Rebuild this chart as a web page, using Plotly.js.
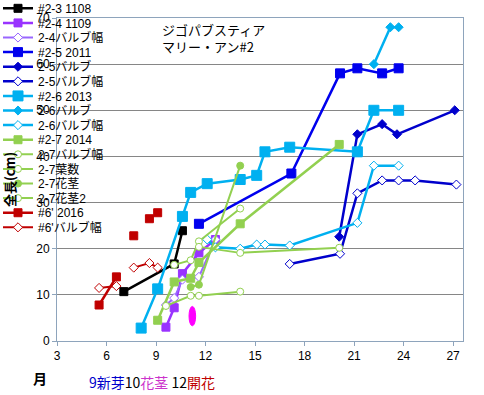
<!DOCTYPE html>
<html>
<head>
<meta charset="utf-8">
<script src="https://cdn.plot.ly/plotly-3.0.1.min.js"></script>
<style>html,body{margin:0;padding:0;background:#fff;}#chart{width:484px;height:395px;}</style>
</head>
<body>
<div id="chart"></div>
<script>
// ---- data (months on x, length in cm on y) ----
const xTicks = [3, 6, 9, 12, 15, 18, 21, 24, 27];
const yTicks = [0, 10, 20, 30, 40, 50, 60, 70];

const s23x = [7.05, 10.1, 10.6];
const s23y = [10.7, 16.7, 23.9];

const s24x = [9.6, 10.1, 10.6, 11.6, 12.6];
const s24y = [3.0, 7.2, 14.6, 19.1, 22.0];

const s24wx = [9.6, 10.1, 10.6, 11.6, 12.6];
const s24wy = [7.8, 9.3, 13.3, 13.9, 22.0];

const s25x = [11.6, 17.2, 20.15, 21.2, 22.7, 23.7];
const s25y = [25.4, 36.3, 58.0, 59.1, 58.0, 59.1];

const s25bx = [20.1, 21.2, 22.7, 23.6, 27.1];
const s25by = [22.6, 44.8, 47.0, 44.8, 50.0];

const s25wx = [17.1, 20.15, 21.2, 22.7, 23.7, 24.7, 27.2];
const s25wy = [16.7, 18.9, 32.0, 34.8, 34.8, 34.8, 33.9];

const s26x = [8.1, 9.1, 10.6, 11.1, 12.1, 14.1, 15.1, 15.6, 17.1, 21.2, 22.2, 23.7];
const s26y = [2.8, 11.3, 27.0, 32.2, 34.1, 35.0, 35.9, 41.0, 42.0, 41.0, 50.0, 50.0];

const s26bx = [22.2, 23.2, 23.7];
const s26by = [60.0, 68.0, 68.0];

const s26wx = [12.1, 12.6, 14.1, 15.1, 15.6, 17.1, 21.2, 22.2, 23.7];
const s26wy = [22.0, 20.3, 20.0, 20.9, 20.9, 20.7, 25.6, 38.0, 38.0];

const s27x = [9.1, 10.1, 11.1, 11.6, 14.1, 20.1];
const s27y = [4.5, 12.8, 13.6, 17.0, 25.4, 42.6];

const s27wx = [10.1, 11.1, 11.6, 14.1];
const s27wy = [16.5, 17.5, 21.6, 28.7];

const s27leafx = [9.6, 11.1, 11.6, 14.1];
const s27leafy = [7.6, 9.8, 9.8, 10.7];

const s27stemx = [11.1, 11.6, 14.1];
const s27stemy = [11.7, 12.2, 38.0];

const s27stem2x = [11.6, 14.1, 20.1];
const s27stem2y = [20.4, 19.1, 20.2];

const s6x = [5.55, 6.6, 7.1, 7.65, 8.1, 8.6, 8.85, 9.1];
const s6y = [7.8, 13.9, null, 22.8, null, 26.5, null, 27.8];

const s6wx = [5.55, 6.6, 7.1, 7.65, 8.6, 9.1];
const s6wy = [11.5, 11.9, null, 15.9, 16.9, 15.9];

// flower-stem marker (ellipse) centre, in data units
const stemMarkX = 11.2;
const stemMarkY = 5.4;

// ---- styling ----
const C_BLACK = '#000000', C_PURPLE = '#9933FF', C_VIOLET = '#9966FF',
      C_BLUE = '#0000EE', C_DBLUE = '#0000CC', C_CYAN = '#00B0F0',
      C_GREEN = '#92D050', C_RED = '#C00000';

function tr(name, x, y, color, symbol, size, open, lw) {
  return {
    type: 'scatter', mode: 'lines+markers', name: name, x: x, y: y,
    connectgaps: false,
    line: {color: color, width: lw || 2.5},
    marker: {symbol: symbol, size: size, color: open ? '#ffffff' : color,
             line: {color: color, width: 1}}
  };
}

const traces = [
  tr('#2-3 1108', s23x, s23y, C_BLACK, 'square', 8),
  tr('#2-4 1109', s24x, s24y, C_PURPLE, 'square', 8),
  tr('2-4バルブ幅', s24wx, s24wy, C_VIOLET, 'diamond', 7, true, 2),
  tr('#2-5 2011', s25x, s25y, C_BLUE, 'square', 9),
  tr('2-5バルブ', s25bx, s25by, C_DBLUE, 'diamond', 7),
  tr('2-5バルブ幅', s25wx, s25wy, C_DBLUE, 'diamond', 7, true),
  tr('#2-6 2013', s26x, s26y, C_CYAN, 'square', 10),
  tr('2-6バルブ', s26bx, s26by, C_CYAN, 'diamond', 7),
  tr('2-6バルブ幅', s26wx, s26wy, C_CYAN, 'diamond', 7, true),
  tr('#2-7 2014', s27x, s27y, C_GREEN, 'square', 8),
  tr('2-7バルブ幅', s27wx, s27wy, C_GREEN, 'circle', 7, true, 2),
  tr('2-7葉数', s27leafx, s27leafy, C_GREEN, 'circle', 7, true, 2),
  tr('2-7花茎', s27stemx, s27stemy, C_GREEN, 'circle', 7, false, 2),
  tr('2-7花茎2', s27stem2x, s27stem2y, C_GREEN, 'circle', 7, true, 2),
  tr("#6' 2016", s6x, s6y, C_RED, 'square', 8),
  tr("#6'バルブ幅", s6wx, s6wy, C_RED, 'diamond', 7, true, 2)
];

const FONT = 'Liberation Sans, Arial, Noto Sans CJK JP, sans-serif';
const JFONT = 'Noto Sans CJK JP, Liberation Sans, sans-serif';

const layout = {
  width: 484, height: 395,
  margin: {l: 57, r: 21, t: 18, b: 54, autoexpand: false},
  paper_bgcolor: '#ffffff', plot_bgcolor: '#ffffff',
  font: {family: FONT, size: 12, color: '#000'},
  title: {
    text: 'ジゴパブスティア<br>マリー・アン#2',
    font: {family: JFONT, size: 13, color: '#000'},
    x: 162 / 484, xanchor: 'left', xref: 'container',
    y: 1 - 35 / 395, yanchor: 'middle', yref: 'container'
  },
  xaxis: {
    range: [3, 27.6], tickvals: xTicks, ticktext: xTicks.map(String),
    showgrid: false, zeroline: false,
    showline: true, linecolor: '#8EA4BC', linewidth: 1, mirror: true,
    ticks: 'outside', ticklen: 4, tickcolor: '#8EA4BC',
    tickfont: {family: FONT, size: 12}
  },
  yaxis: {
    range: [0, 70], tickvals: yTicks, ticktext: yTicks.map(String),
    showgrid: true, gridcolor: '#868686', gridwidth: 1, zeroline: false,
    showline: true, linecolor: '#8EA4BC', linewidth: 1, mirror: true,
    ticks: 'outside', ticklen: 4, tickcolor: '#8EA4BC',
    tickfont: {family: FONT, size: 12},
    title: {text: '<b>全長(cm)</b>', font: {family: JFONT, size: 13}, standoff: 18}
  },
  showlegend: true,
  legend: {
    x: -0.14, xanchor: 'left', y: 1.056, yanchor: 'top',
    bgcolor: 'rgba(0,0,0,0)', borderwidth: 0,
    font: {family: FONT, size: 12, color: '#000'},
    tracegroupgap: 0, itemwidth: 30, maxheight: 1
  },
  annotations: [
    {xref: 'paper', yref: 'paper', x: -0.042, y: -0.115, xanchor: 'center', yanchor: 'middle',
     text: '<b>月</b>', showarrow: false, font: {family: JFONT, size: 14, color: '#000'}},
    {xref: 'paper', yref: 'paper', x: 0.075, y: -0.127, xanchor: 'left', yanchor: 'middle',
     showarrow: false, font: {family: JFONT, size: 14},
     text: '<span style="color:#0000CC">9新芽</span><span style="color:#000">10</span><span style="color:#CC33CC">花茎</span><span style="color:#000"> 12</span><span style="color:#C00000">開花</span>'}
  ],
  shapes: [
    {type: 'circle', xref: 'x', yref: 'y',
     x0: stemMarkX - 0.2, x1: stemMarkX + 0.2, y0: stemMarkY - 2.1, y1: stemMarkY + 2.1,
     fillcolor: '#FF00FF', line: {color: '#FF00FF', width: 1}}
  ]
};

Plotly.newPlot('chart', traces, layout, {displayModeBar: false, staticPlot: true}).then(function () {
  // tighten legend row spacing to match the reference (~14.6px per row)
  const items = document.querySelectorAll('.legend .traces');
  const step = 14.6;
  let y0 = null;
  items.forEach(function (g, i) {
    const t = g.getAttribute('transform') || '';
    const m = t.match(/translate\(\s*([-\d.e]+)[ ,]+([-\d.e]+)\s*\)/);
    if (!m) return;
    if (y0 === null) y0 = parseFloat(m[2]);
    g.setAttribute('transform', 'translate(' + m[1] + ',' + (y0 + i * step) + ')');
  });
  // place the legend block so the first entry's text starts near (38, 9)
  const leg = document.querySelector('.legend');
  const firstText = document.querySelector('.legend .traces .legendtext');
  if (leg && firstText) {
    const r = firstText.getBoundingClientRect();
    const dx = 38 - r.left, dy = 9 - (r.top + r.height / 2);
    const t = leg.getAttribute('transform') || '';
    const m = t.match(/translate\(\s*([-\d.e]+)[ ,]+([-\d.e]+)\s*\)/);
    if (m) {
      leg.setAttribute('transform', 'translate(' + (parseFloat(m[1]) + dx) + ',' + (parseFloat(m[2]) + dy) + ')');
    }
  }
});
</script>
</body>
</html>
